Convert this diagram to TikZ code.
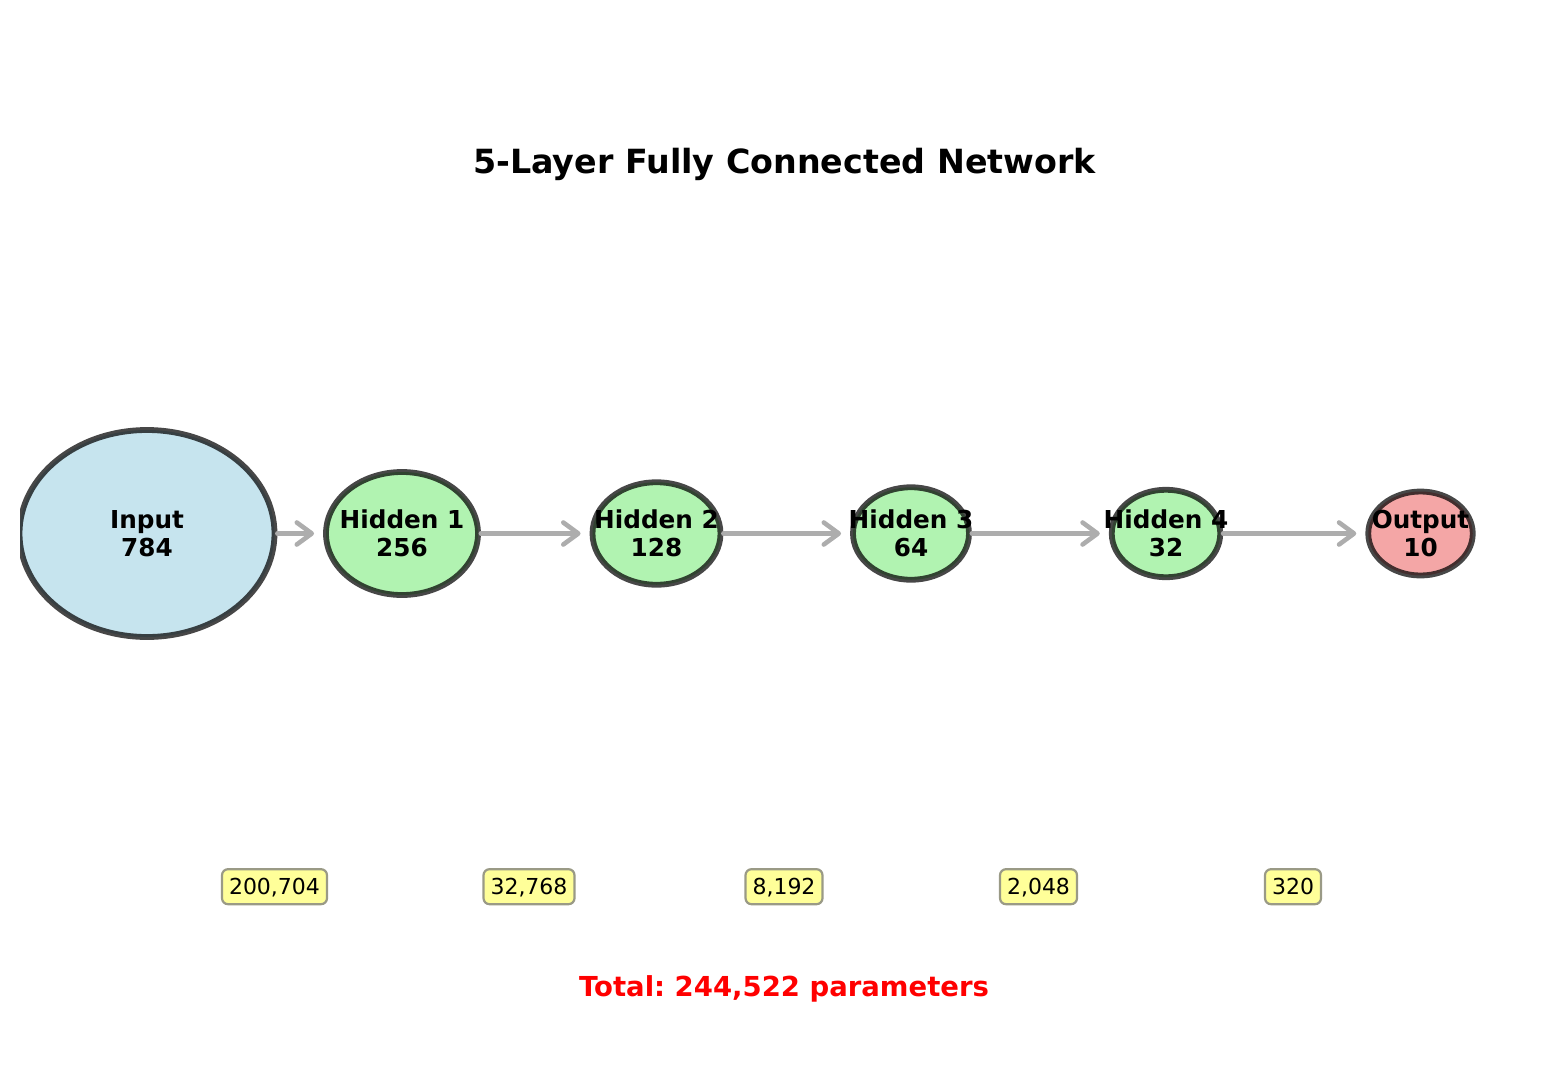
\documentclass[tikz,border=0pt]{standalone}
\usepackage{fontspec}
\setmainfont{DejaVu Sans}
\frenchspacing
\usetikzlibrary{shapes.geometric,arrows.meta}
\definecolor{inblue}{HTML}{C6E4EE}
\definecolor{hidgreen}{HTML}{B1F3B1}
\definecolor{outred}{HTML}{F4A6A6}
\definecolor{arrowgray}{HTML}{ADADAD}
\definecolor{boxyellow}{HTML}{FFFF99}
\definecolor{boxedge}{HTML}{9A9A86}
\tikzset{
  layer/.style={ellipse, draw=black, draw opacity=0.72, line width=5.8pt, line join=round, inner sep=0pt},
  lbl/.style={font=\bfseries\fontsize{24.7}{28}\selectfont, align=center, inner sep=0pt},
  conn/.style={draw=arrowgray, line width=4.6pt, line cap=round,
    -{Straight Barb[length=15pt,width=22pt,round]}, shorten >=9pt},
  pbox/.style={draw=boxedge, fill=boxyellow, line width=2.2pt, rounded corners=6pt,
    font=\fontsize{22}{26}\selectfont, minimum height=35pt, inner xsep=7pt,
    inner ysep=0pt, text height=16pt, text depth=0pt},
}
\begin{document}
\begin{tikzpicture}[x=1pt,y=-1pt]
\useasboundingbox (0,0) rectangle (1568,1068);
\node[font=\bfseries\fontsize{33.3}{40}\selectfont, anchor=base] (title) at (784.5,173.3) {5-Layer Fully Connected Network};
\begin{scope}
\clip (20,0) rectangle (1548,1068);
\node[layer, fill=inblue, minimum width=255pt, minimum height=207pt] (nIn) at (147,533.5) {};
\node[layer, fill=hidgreen, minimum width=152pt, minimum height=123pt] (nH1) at (402,533.5) {};
\node[layer, fill=hidgreen, minimum width=128pt, minimum height=102.5pt] (nH2) at (656.5,533.5) {};
\node[layer, fill=hidgreen, minimum width=116pt, minimum height=92.5pt] (nH3) at (911,533.5) {};
\node[layer, fill=hidgreen, minimum width=108.5pt, minimum height=87.5pt] (nH4) at (1166,533.5) {};
\node[layer, fill=outred, minimum width=104.5pt, minimum height=84pt] (nOut) at (1420.5,533.5) {};
\end{scope}
\draw[conn] (nIn) -- (nH1);
\draw[conn] (nH1) -- (nH2);
\draw[conn] (nH2) -- (nH3);
\draw[conn] (nH3) -- (nH4);
\draw[conn] (nH4) -- (nOut);
\node[lbl] (tIn) at (nIn) {Input\\784};
\node[lbl] (tH1) at (nH1) {Hidden 1\\256};
\node[lbl] (tH2) at (nH2) {Hidden 2\\128};
\node[lbl] (tH3) at (nH3) {Hidden 3\\64};
\node[lbl] (tH4) at (nH4) {Hidden 4\\32};
\node[lbl] (tOut) at (nOut) {Output\\10};
\node[pbox] (p1) at (274.5,886.7) {200,704};
\node[pbox] (p2) at (529,886.7) {32,768};
\node[pbox] (p3) at (784,886.7) {8,192};
\node[pbox] (p4) at (1038.5,886.7) {2,048};
\node[pbox] (p5) at (1293,886.7) {320};
\node[font=\bfseries\fontsize{27.5}{33}\selectfont, text=red, anchor=base] (total) at (784,996.7) {Total: 244,522 parameters};
\end{tikzpicture}
\end{document}
